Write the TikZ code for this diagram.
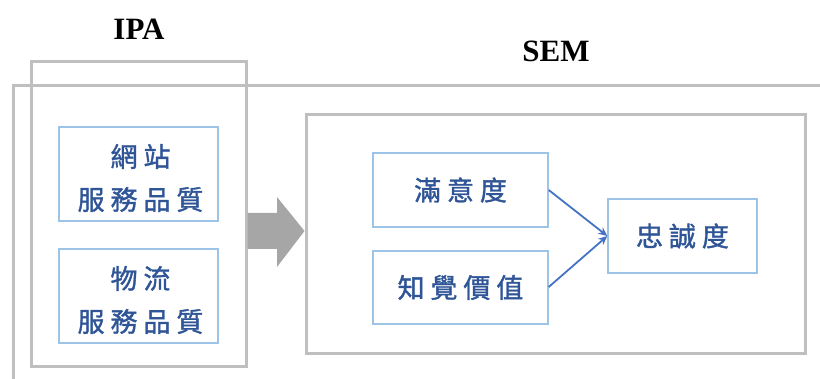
\documentclass[tikz,border=0pt]{standalone}
\usepackage{fontspec}
\setmainfont{Liberation Serif}
\newfontfamily\cjk[LetterSpace=22, FakeBold=1.3]{Noto Sans CJK TC}
\usetikzlibrary{arrows.meta}
\definecolor{grayline}{HTML}{BFBFBF}
\definecolor{grayarrow}{HTML}{A6A6A6}
\definecolor{boxblue}{HTML}{9DC3E6}
\definecolor{textblue}{HTML}{2F5597}
\definecolor{arrowblue}{HTML}{4472C4}
\tikzset{
  graybox/.style={draw=grayline, line width=3pt, minimum width=#1, inner sep=0pt},
  varbox/.style={draw=boxblue, line width=1.4pt, fill=white, inner sep=0pt, align=center,
    text=textblue, font=\cjk\fontsize{27}{43}\selectfont},
  title/.style={font=\bfseries\fontsize{31}{31}\selectfont, anchor=base, inner sep=0pt},
  link/.style={draw=arrowblue, line width=1.8pt, -{Stealth[length=9pt,width=8pt]}}
}
\begin{document}
\begin{tikzpicture}[x=1pt,y=1pt]
\useasboundingbox (0,0) rectangle (820,378);
\clip (0,0) rectangle (820,378);
% outer SEM frame
\draw[grayline, line width=3pt] (830,292) -- (13,292) -- (13,-10);
% IPA frame
\node[graybox=215pt, minimum height=304pt] (ipa) at (138.5,164) {};
% inner SEM frame
\node[graybox=499pt, minimum height=238pt] (sem) at (555.5,144) {};
% titles
\node[title] (ipat) at (139,338) {IPA};
\node[title] (semt) at (556,316) {SEM};
% IPA boxes
\node[varbox, minimum width=159pt, minimum height=94pt] (web) at (138.5,204) {};
\node[text=textblue, font=\cjk\fontsize{27}{43}\selectfont, align=center, inner sep=0pt] (webt) at (140.5,200) {網站\\服務品質};
\node[varbox, minimum width=159pt, minimum height=94pt] (log) at (138.5,82) {};
\node[text=textblue, font=\cjk\fontsize{27}{43}\selectfont, align=center, inner sep=0pt] (logt) at (140.5,78) {物流\\服務品質};
% gray block arrow
\fill[grayarrow] (ipa.east |- 0,165) -- (277,165) -- (277,181) -- (sem.west |- 0,147)
  -- (277,111) -- (277,129) -- (ipa.east |- 0,129) -- cycle;
% SEM boxes
\node[varbox, minimum width=175pt, minimum height=74pt] (sat) at (460.5,188) {滿意度};
\node[varbox, minimum width=175pt, minimum height=73pt] (val) at (460.5,90.5) {知覺價值};
\node[varbox, minimum width=149pt, minimum height=74pt] (loy) at (682.5,142) {忠誠度};
% links
\draw[link] (sat.east |- 0,188) -- (loy.west);
\draw[link] (val.east |- 0,91) -- (loy.west);
\end{tikzpicture}
\end{document}
